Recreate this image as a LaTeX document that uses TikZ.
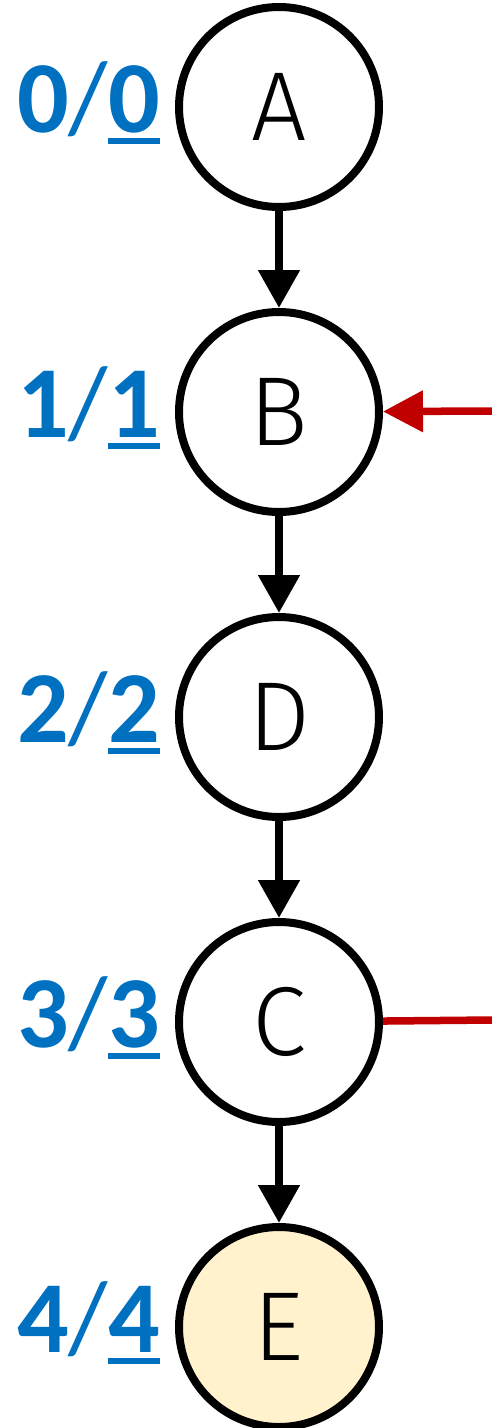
\documentclass[tikz,border=0pt]{standalone}
\usepackage{fontspec}
\setmainfont{Noto Sans}
\newfontfamily\lblfont{Carlito}
\newfontfamily\vtxfont{Fira Sans Light}
\usetikzlibrary{positioning,arrows.meta}
\definecolor{lblblue}{HTML}{0070C0}
\definecolor{hitred}{HTML}{C00000}
\definecolor{goalfill}{HTML}{FFF2CC}
% underlined number, thick bar below the digit
\newcommand{\ulnum}[1]{\setbox0\hbox{\bfseries#1}\rlap{\rule[-12pt]{\wd0}{6pt}}\box0}
% label: bold number, thin slash, underlined bold number
\newcommand{\lblpair}[2]{\textbf{#1}/\ulnum{#2}}
\tikzset{every picture/.style={line width=8pt}}

\begin{document}
\begin{tikzpicture}[x=1pt,y=1pt,yscale=-1,node distance=97pt,
    vtx/.style={circle,draw,minimum size=200pt,inner sep=0pt,font=\vtxfont\fontsize{98}{98}\selectfont},
    goal/.style={vtx,fill=goalfill},
    lbl/.style={text=lblblue,inner sep=0pt,outer sep=0pt,yshift=4pt,font=\lblfont\fontsize{102}{102}\selectfont},
    edge/.style={-{Triangle[length=38pt,width=40pt]}},
    redge/.style={hitred,line width=7.5pt,-{Triangle[length=40pt,width=40pt]}}]
  \useasboundingbox (0,0) rectangle (492,1428);

  % vertices
  \node [vtx] (a) at (279,107) {A};
  \node [vtx, below=of a] (b) {B};
  \node [vtx, below=of b] (d) {D};
  \node [vtx, below=of d] (c) {C};
  \node [goal, below=of c] (e) {E};

  % labels
  \node [lbl, left=15pt of a] (la) {\lblpair{0}{0}};
  \node [lbl, left=15pt of b] (lb) {\lblpair{1}{1}};
  \node [lbl, left=15pt of d] (ld) {\lblpair{2}{2}};
  \node [lbl, left=15pt of c] (lc) {\lblpair{3}{3}};
  \node [lbl, left=15pt of e] (le) {\lblpair{4}{4}};

  % edges
  \draw [edge] (a) -- (b);
  \draw [edge] (b) -- (d);
  \draw [edge] (d) -- (c);
  \draw [edge] (c) -- (e);

  % incoming / outgoing
  \coordinate (inb) at (492,411);
  \coordinate (outc) at (492,1020);
  \draw [redge] (inb) -- (b);
  \draw [hitred,line width=7.5pt] (c) -- (outc);
\end{tikzpicture}
\end{document}
